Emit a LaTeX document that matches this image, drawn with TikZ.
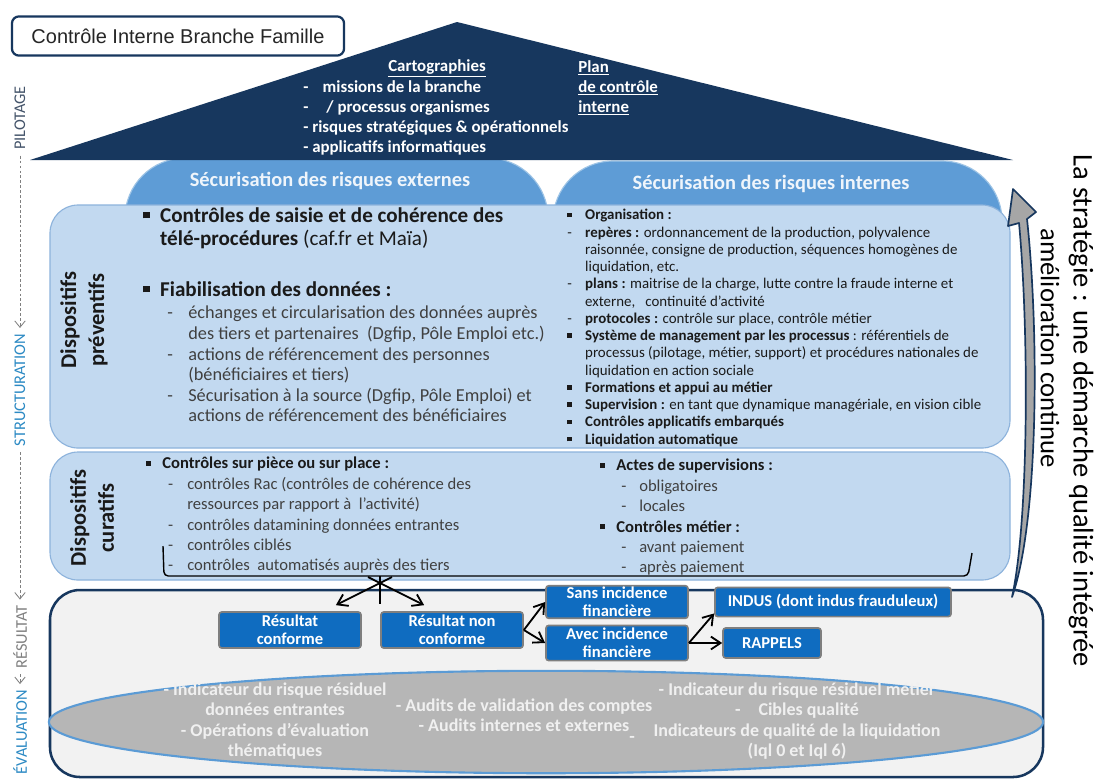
\documentclass[tikz,border=0pt]{standalone}
\usepackage{fontspec}
\setmainfont{Carlito}
\newfontfamily\titlefont{Liberation Sans}
\usetikzlibrary{arrows.meta,positioning,shapes.geometric,calc}

\definecolor{marine}{HTML}{17375E}
\definecolor{domebleu}{HTML}{5E9CD6}
\definecolor{pale}{HTML}{C2D9F0}
\definecolor{paletrait}{HTML}{8DB3DC}
\definecolor{fondres}{HTML}{F2F2F2}
\definecolor{bleubox}{HTML}{0F6CC0}
\definecolor{gristrait}{HTML}{7F7F7F}
\definecolor{ellgris}{HTML}{B6B6B6}
\definecolor{ellbleu}{HTML}{5B9BD5}
\definecolor{texte}{HTML}{1A1A1A}
\definecolor{textegris}{HTML}{404040}
\definecolor{axebleu}{HTML}{2C8AC4}
\definecolor{axegris}{HTML}{808080}
\definecolor{axeardoise}{HTML}{44546A}
\definecolor{flechegris}{HTML}{A6A6A6}

% puces et tirets des listes
\newcommand{\puce}[1][1.2em]{\makebox[#1][l]{\raisebox{0.18em}{\rule{0.3em}{0.3em}}}}
\newcommand{\tiret}[1][1.2em]{\makebox[#1][l]{-}}
\newcommand{\retrait}[1][1.2em]{\hspace*{#1}}

\begin{document}
\begin{tikzpicture}[x=0.025cm, y=-0.025cm,
    titre/.style={draw=marine, line width=1.6pt, fill=white, rounded corners=5pt, minimum width=8.3cm, minimum height=0.98cm, font=\titlefont\fontsize{14.2}{16}\selectfont, text=black!85},
    dome/.style={fill=domebleu, draw=domebleu!60!white, line width=0.8pt, rounded corners=1.5cm},
    dometitre/.style={font=\fontsize{14.5}{17}\selectfont\bfseries, text=white!90!domebleu},
    toittexte/.style={font=\fontsize{12}{14.2}\selectfont\bfseries, text=white, align=left, inner sep=0pt},
    panneau/.style={fill=pale, draw=paletrait, line width=0.8pt, rounded corners=0.7cm},
    etiquette/.style={rotate=90, align=center, font=\fontsize{16}{20}\selectfont\bfseries, text=black!90},
    bloc/.style={anchor=north west, align=left, inner sep=0pt, text=texte},
    cadre/.style={fill=fondres, draw=marine, line width=1.8pt, rounded corners=0.75cm},
    ovale/.style={fill=ellgris, draw=ellbleu, line width=1.5pt},
    ovaltexte/.style={align=center, font=\fontsize{12.8}{14.6}\selectfont\bfseries, text=white!94!black},
    resultat/.style={rectangle, fill=bleubox, draw=gristrait, line width=1.2pt, rounded corners=2pt, align=center, text=white, font=\fontsize{11.8}{12.8}\selectfont\bfseries, inner sep=1pt},
    fl/.style={-{Straight Barb[length=2.4mm, width=3.2mm]}, line width=1.3pt, black},
    accolade/.style={line width=1pt, black, rounded corners=3pt},
    axe/.style={rotate=90, font=\fontsize{11.6}{14}\selectfont, inner sep=1pt},
    axefleche/.style={-{Straight Barb[length=1.6mm, width=2.6mm]}, dash pattern=on 2pt off 1.5pt, axegris, line width=0.6pt, shorten <=3pt, shorten >=3pt},
    courbe/.style={fill=flechegris, draw=marine, line width=1.2pt, line join=round},
  ]
  \useasboundingbox[fill=white] (0,0) rectangle (1095,779);

  % domes des deux familles de risques, sous le toit
  \draw[dome] (125,330) rectangle (548,158);
  \draw[dome] (553,330) rectangle (1002,161);
  \node[dometitre] (externes) at (330,181) {Sécurisation des risques externes};
  \node[dometitre] (internes) at (771,184) {Sécurisation des risques internes};

  % toit : pilotage
  \fill[marine] (30,160) -- (457,22) -- (1013,160) -- cycle;
  \node[titre] (titre) at (178,36) {Contrôle Interne Branche Famille};
  \node[toittexte] (carto) at (437,68) {\underline{Cartographies}};
  \node[toittexte, anchor=north west] (cartoliste) at (303,80) {\makebox[1.15em][l]{-}missions de la branche\\
    \makebox[1.15em][l]{-}\ / processus organismes\\
    - risques stratégiques \& opérationnels\\
    - applicatifs informatiques};
  \node[toittexte, anchor=north west] (plan) at (578,60) {\underline{Plan}\\ \underline{de contrôle}\\ \underline{interne}};

  % dispositifs preventifs
  \draw[panneau] (50,205) rectangle (1010,448);
  \node[etiquette] (prevlab) at (84,320) {Dispositifs\\préventifs};
  \node[bloc, font=\fontsize{15}{17}\selectfont] (saisie) at (143,207)
    {\puce[0.8em]\textbf{Contrôles de saisie et de cohérence des}\\
     \retrait[0.8em]\textbf{télé-procédures} (caf.fr et Maïa)};
  \node[bloc, font=\fontsize{15}{17}\selectfont] (fiab) at (143,281)
    {\puce[0.8em]\textbf{Fiabilisation des données :}};
  \node[bloc, font=\fontsize{13}{14.6}\selectfont, text=textegris] (fiabliste) at (167,306)
    {\tiret[1.15em]échanges et circularisation des données auprès\\
     \retrait[1.15em]des tiers et partenaires \ (Dgfip, Pôle Emploi etc.)\\
     \tiret[1.15em]actions de référencement des personnes\\
     \retrait[1.15em](bénéficiaires et tiers)\\
     \tiret[1.15em]Sécurisation à la source (Dgfip, Pôle Emploi) et\\
     \retrait[1.15em]actions de référencement des bénéficiaires};
  \node[bloc, font=\fontsize{10.6}{12.27}\selectfont] (organisation) at (567,209)
    {\puce\textbf{Organisation :}\\
     \tiret\textbf{repères :} ordonnancement de la production, polyvalence\\
     \retrait raisonnée, consigne de production, séquences homogènes de\\
     \retrait liquidation, etc.\\
     \tiret\textbf{plans :} maitrise de la charge, lutte contre la fraude interne et\\
     \retrait externe, \ \ continuité d’activité\\
     \tiret\textbf{protocoles :} contrôle sur place, contrôle métier\\
     \puce\textbf{Système de management par les processus} : référentiels de\\
     \retrait processus (pilotage, métier, support) et procédures nationales de\\
     \retrait liquidation en action sociale\\
     \puce\textbf{Formations et appui au métier}\\
     \puce\textbf{Supervision :} en tant que dynamique managériale, en vision cible\\
     \puce\textbf{Contrôles applicatifs embarqués}\\
     \puce\textbf{Liquidation automatique}};

  % dispositifs curatifs
  \draw[panneau] (50,452) rectangle (1010,580);
  \node[etiquette] (curlab) at (92,518) {Dispositifs\\curatifs};
  \node[bloc, font=\fontsize{11.8}{14.5}\selectfont] (piece) at (146,457)
    {\puce[0.97em]\textbf{Contrôles sur pièce ou sur place :}\\
     \color{textegris}\hspace*{1.32em}\tiret[1.15em]contrôles Rac (contrôles de cohérence des\\
     \color{textegris}\hspace*{2.47em}ressources par rapport à \ l’activité)\\
     \color{textegris}\hspace*{1.32em}\tiret[1.15em]contrôles datamining données entrantes\\
     \color{textegris}\hspace*{1.32em}\tiret[1.15em]contrôles ciblés\\
     \color{textegris}\hspace*{1.32em}\tiret[1.15em]contrôles \ automatisés auprès des tiers};
  \node[bloc, font=\fontsize{11.8}{14.5}\selectfont] (supervision) at (600,459)
    {\puce[0.97em]\textbf{Actes de supervisions :}\\
     \color{textegris}\hspace*{1.27em}\tiret[1.08em]obligatoires\\
     \color{textegris}\hspace*{1.27em}\tiret[1.08em]locales\\
     \puce[0.97em]\textbf{Contrôles métier :}\\
     \color{textegris}\hspace*{1.27em}\tiret[1.08em]avant paiement\\
     \color{textegris}\hspace*{1.27em}\tiret[1.08em]après paiement};
  \draw[accolade] (163,546) -- (164,576) -- (968,576) -- (972,553);

  % resultat
  \draw[cadre] (50,590) rectangle (1043,777);
  \draw[ovale] (546,722) ellipse [x radius=12.425cm, y radius=1.28cm];
  \node[ovaltexte] (evalA) at (275,721) {- Indicateur du risque résiduel\\données entrantes\\- Opérations d’évaluation\\thématiques};
  \node[ovaltexte] (evalB) at (524,715) {- Audits de validation des comptes\\- Audits internes et externes};
  \node[ovaltexte] (evalC) at (797,721) {- Indicateur du risque résiduel métier\\-\quad Cibles qualité\\Indicateurs de qualité de la liquidation\\(Iql 0 et Iql 6)};
  \node[ovaltexte, inner sep=0pt] (evaltiret) at (632,739) {-};

  \node[resultat, minimum width=3.55cm, minimum height=0.9cm] (conf) at (290,630) {Résultat\\conforme};
  \node[resultat, minimum width=3.55cm, minimum height=0.9cm] (nonconf) at (452,630) {Résultat non\\conforme};
  \node[resultat, minimum width=3.55cm, minimum height=0.8cm] (sans) at (617,602) {Sans incidence\\financière};
  \node[resultat, minimum width=3.55cm, minimum height=0.88cm] (avec) at (617,643) {Avec incidence\\financière};
  \node[resultat, minimum width=5.9cm, minimum height=0.73cm] (indus) at (833,602) {INDUS (dont indus frauduleux)};
  \node[resultat, minimum width=2.45cm, minimum height=0.75cm] (rappels) at (772,643) {RAPPELS};

  \coordinate (fourche) at (380,576);
  \coordinate (pied) at (380,604);
  \coordinate (brasG) at (392,577);
  \coordinate (brasD) at (368,577);
  \draw[accolade] (fourche) -- (pied);
  \draw[fl] (brasG) -- ($(conf.north east)+(-26,-6)$);
  \draw[fl] (brasD) -- ($(nonconf.north west)+(44,-6)$);
  \draw[fl] (nonconf.east) -- (sans.west);
  \draw[fl] (nonconf.east) -- (avec.west);
  \draw[fl] (avec.east) -- ($(indus.south west)+(0,-4)$);
  \draw[fl] (avec.east) -- (rappels.west);

  % fleche courbe et strategie
  \filldraw[courbe] (1012,597) .. controls (1029,520) and (1029,330) .. (1019,223)
    -- (1008,226) -- (1013,189) -- (1036,212) -- (1027,219)
    .. controls (1039,330) and (1039,520) .. (1012,597) -- cycle;
  \node[rotate=-90, font=\fontsize{19}{23}\selectfont] (amelioration) at (1050,348) {amélioration continue};
  \node[rotate=-90, font=\fontsize{20.3}{24}\selectfont] (strategie) at (1081,411) {La stratégie : une démarche qualité intégrée};

  % axe des etapes
  \node[axe, text=axeardoise] (pilotage) at (20,118) {PILOTAGE};
  \node[axe, text=axebleu] (structuration) at (20,390) {STRUCTURATION};
  \node[axe, text=axegris] (resultatlab) at (20,637) {RÉSULTAT};
  \node[axe, text=axebleu] (evaluation) at (20,732) {ÉVALUATION};
  \draw[axefleche] (pilotage.west) -- (structuration.east);
  \draw[axefleche] (structuration.west) -- (resultatlab.east);
  \draw[axefleche] (resultatlab.west) -- (evaluation.east);
\end{tikzpicture}
\end{document}
